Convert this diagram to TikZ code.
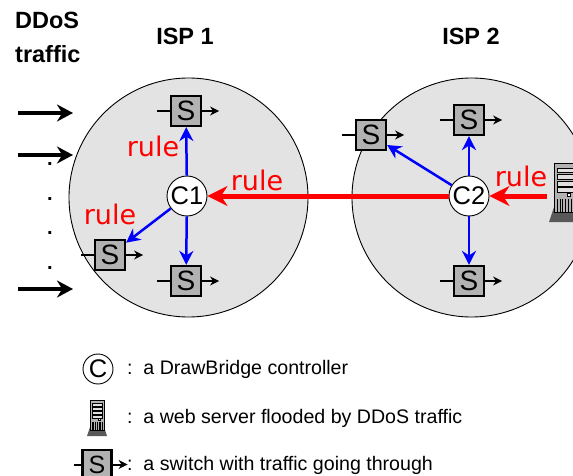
\documentclass[tikz,border=0pt]{standalone}
\usepackage{fontspec}
\setmainfont{Liberation Sans}
\newfontfamily\rulefont{DejaVu Sans}
\usetikzlibrary{positioning}
\usetikzlibrary{arrows.meta}

\tikzset{
    server/.pic={
        \fill[gray!70!black] (3,27) -- (17,27) -- (20,36) -- (0,36) -- cycle;
        \draw[line width=0.7pt, fill=gray!60] (3,0) rectangle (17,30);
        \foreach \r in {3,7,11,15}
        {
            \draw[line width=0.7pt, fill=gray!25] (5,\r) rectangle (15,\r+3);
        }
        \draw[line width=0.5pt, fill=white] (11,18.5) rectangle (13,20);
        \foreach \g in {5,6.7,8.4,10.1,11.8,13.5,15}
        {
            \draw[line width=0.6pt] (\g,22) -- (\g,30);
        }
    }
}

\begin{document}
\begin{tikzpicture}[x=1pt, y=-1pt]
    \tikzstyle{isp}=[circle, fill=gray!22, draw=black, line width=0.9pt,
            minimum size=239pt, inner sep=0pt]
    \tikzstyle{controller}=[circle, fill=white, draw=black, line width=0.9pt,
            minimum size=40pt, inner sep=0pt, font=\fontsize{25.5}{25.5}\selectfont]
    \tikzstyle{switchbox}=[rectangle, fill=gray!60, draw=black, line width=2.2pt,
            minimum size=30pt, inner sep=0pt, font=\fontsize{28}{28}\selectfont]
    \tikzstyle{stub}=[line width=2pt]
    \tikzstyle{stubarrow}=[line width=2pt, -{Stealth[length=9pt, width=9pt]}]
    \tikzstyle{ctrlarrow}=[blue, line width=2.5pt, -{Stealth[length=14pt, width=14pt]}]
    \tikzstyle{rulearrow}=[red, line width=5pt, -{Stealth[length=20pt, width=20pt]}]
    \tikzstyle{flood}=[line width=4pt, -{Stealth[length=16pt, width=17pt]}]
    \tikzstyle{rulelabel}=[red, inner sep=0pt, font=\rulefont\fontsize{27}{27}\selectfont]
    \tikzstyle{heading}=[inner sep=0pt, font=\bfseries\fontsize{23.5}{23.5}\selectfont]
    \tikzstyle{legendtext}=[anchor=base west, inner sep=0pt,
            font=\fontsize{19.6}{19.6}\selectfont]

    \clip (0,0) rectangle (573,476);

    \node[isp] (isp1) at (188.5,197.5) {};
    \node[isp] (isp2) at (471.5,197.5) {};

    \node[heading, anchor=west] (ddos) at (15,20) {DDoS};
    \node[heading, anchor=west] (traffic) at (15,54) {traffic};
    \node[heading] (name1) at (185,36) {ISP 1};
    \node[heading] (name2) at (471,36) {ISP 2};

    \node[controller] (c1) at (187,196) {C1};
    \node[controller] (c2) at (469,196) {C2};

    % switches of both ISPs
    \foreach \s/\x/\y in {s11/186/111, s12/110/255, s13/186/281,
                          s21/469/120, s22/371/135, s23/469/281}
    {
        \node[switchbox] (\s) at (\x,\y) {S};
        \coordinate[left=13pt of \s.west] (\s in);
        \coordinate[right=17pt of \s.east] (\s out);
        \draw[stub] (\s in) -- (\s);
        \draw[stubarrow] (\s) -- (\s out);
    }

    \foreach \s in {s11, s12, s13}
    {
        \draw[ctrlarrow] (c1) -- (\s);
    }

    \foreach \s in {s21, s22, s23}
    {
        \draw[ctrlarrow] (c2) -- (\s);
    }

    \pic at (549,163) [scale=1.64] {server};
    \coordinate (srv) at (547,196);

    \draw[rulearrow] (c2) -- (c1);
    \draw[rulearrow] (srv) -- (c2);

    \node[rulelabel] (rule1) at (153,146) {rule};
    \node[rulelabel] (rule2) at (110,214) {rule};
    \node[rulelabel] (rule3) at (257,180) {rule};
    \node[rulelabel] (rule4) at (521,176) {rule};

    % DDoS traffic coming in
    \foreach \t/\y in {a/113, b/155, c/289}
    {
        \coordinate (from\t) at (18,\y);
        \coordinate (to\t) at (73,\y);
        \draw[flood] (from\t) -- (to\t);
    }

    \foreach \d/\y in {a/164, b/199, c/233, d/268}
    {
        \node[inner sep=0pt, font=\bfseries\fontsize{20}{20}\selectfont]
        (dot\d) at (50,\y) {.};
    }

    % legend
    \node[circle, draw=black, line width=0.9pt, minimum size=30pt, inner sep=0pt,
        font=\fontsize{25.5}{25.5}\selectfont] (legc) at (98,369) {C};
    \pic at (87,400) {server};
    \node[switchbox, minimum size=29pt, font=\fontsize{25}{25}\selectfont]
    (legs) at (97,464.5) {S};
    \coordinate[left=7pt of legs.west] (legs in);
    \coordinate[right=15pt of legs.east] (legs out);
    \draw[stub] (legs in) -- (legs);
    \draw[stubarrow] (legs) -- (legs out);

    \node[legendtext] (text1) at (127,374) {:\hspace{0.55em}a DrawBridge controller};
    \node[legendtext] (text2) at (127,423) {:\hspace{0.55em}a web server flooded by DDoS traffic};
    \node[legendtext] (text3) at (127,470) {:\hspace{0.55em}a switch with traffic going through};
\end{tikzpicture}
\end{document}
